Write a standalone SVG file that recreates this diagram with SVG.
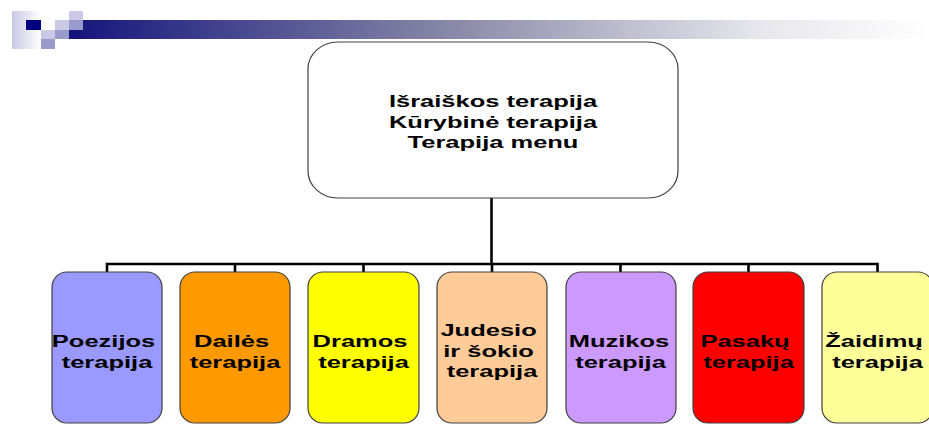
<svg xmlns="http://www.w3.org/2000/svg" width="929" height="425" viewBox="0 0 929 425">
<defs>
<linearGradient id="bar" x1="0" y1="0" x2="1" y2="0">
<stop offset="0" stop-color="#14147c"/>
<stop offset="0.45" stop-color="#8a8aa8"/>
<stop offset="0.8" stop-color="#e6e6ec"/>
<stop offset="1" stop-color="#ffffff"/>
</linearGradient>
<linearGradient id="fade" x1="0" y1="0" x2="1" y2="0">
<stop offset="0" stop-color="#c8c8e4"/>
<stop offset="1" stop-color="#ffffff"/>
</linearGradient>
<style>
.box{stroke:#404040;stroke-width:1.2}
.wire{stroke:#000;stroke-width:2.6;fill:none}
.t{font-family:"Liberation Sans",Arial,sans-serif;font-weight:bold;font-size:17px;fill:#000;text-anchor:middle}
.lt{fill:#cacae6}
.md{fill:#9a9acc}
.dk{fill:#000080}
</style>
</defs>
<g id="header">
<rect x="12" y="11" width="29" height="38" fill="url(#fade)"/>
<rect x="69" y="20" width="860" height="19" fill="url(#bar)"/>
<rect class="dk" x="26" y="20" width="15" height="10"/>
<rect class="lt" x="41" y="30" width="14" height="9"/>
<rect class="md" x="41" y="39" width="14" height="10"/>
<rect class="lt" x="55" y="20" width="14" height="10"/>
<rect class="md" x="55" y="30" width="14" height="9"/>
<rect class="lt" x="69" y="11" width="14" height="9"/>
<rect class="md" x="69" y="20" width="14" height="10"/>
<rect x="69" y="30" width="14" height="9" fill="#14147c"/>
</g>
<g id="connectors">
<path class="wire" d="M491.5 198 V264"/>
<path class="wire" d="M107 272 V264 H877.5 V272"/>
<path class="wire" d="M235 264 V272 M363.5 264 V272 M492 264 V272 M620.5 264 V272 M748.5 264 V272"/>
</g>
<g id="root">
<rect class="box" x="308" y="42" width="370" height="156" rx="30" ry="27" fill="#fff"/>
<g transform="translate(493,0) scale(1.5,1)">
<text class="t" x="0" y="107">Išraiškos terapija</text>
<text class="t" x="0" y="128">Kūrybinė terapija</text>
<text class="t" x="0" y="148">Terapija menu</text>
</g>
</g>
<g id="poezijos">
<rect class="box" x="52" y="272" width="110" height="151" rx="15" fill="#9999ff"/>
<g transform="translate(107,0) scale(1.5,1)">
<text class="t" x="-2.3" y="347">Poezijos</text>
<text class="t" x="0" y="368">terapija</text>
</g>
</g>
<g id="dailes">
<rect class="box" x="180" y="272" width="110" height="151" rx="15" fill="#ff9900"/>
<g transform="translate(235,0) scale(1.5,1)">
<text class="t" x="-2.3" y="347">Dailės</text>
<text class="t" x="0" y="368">terapija</text>
</g>
</g>
<g id="dramos">
<rect class="box" x="308" y="272" width="111" height="151" rx="15" fill="#ffff00"/>
<g transform="translate(363.5,0) scale(1.5,1)">
<text class="t" x="-2.3" y="347">Dramos</text>
<text class="t" x="0" y="368">terapija</text>
</g>
</g>
<g id="judesio">
<rect class="box" x="437" y="272" width="110" height="151" rx="15" fill="#ffcc99"/>
<g transform="translate(492,0) scale(1.5,1)">
<text class="t" x="-2.3" y="336">Judesio</text>
<text class="t" x="-2.3" y="357">ir šokio</text>
<text class="t" x="0" y="377">terapija</text>
</g>
</g>
<g id="muzikos">
<rect class="box" x="566" y="272" width="110" height="151" rx="15" fill="#cc99ff"/>
<g transform="translate(620.5,0) scale(1.5,1)">
<text class="t" x="-1" y="347">Muzikos</text>
<text class="t" x="0" y="368">terapija</text>
</g>
</g>
<g id="pasaku">
<rect class="box" x="693" y="272" width="111" height="151" rx="15" fill="#ff0000"/>
<g transform="translate(748.5,0) scale(1.5,1)">
<text class="t" x="-2.3" y="347">Pasakų</text>
<text class="t" x="0" y="368">terapija</text>
</g>
</g>
<g id="zaidimu">
<rect class="box" x="822" y="272" width="111" height="151" rx="15" fill="#ffff99"/>
<g transform="translate(877.5,0) scale(1.5,1)">
<text class="t" x="-2.3" y="347">Žaidimų</text>
<text class="t" x="0" y="368">terapija</text>
</g>
</g>
</svg>
